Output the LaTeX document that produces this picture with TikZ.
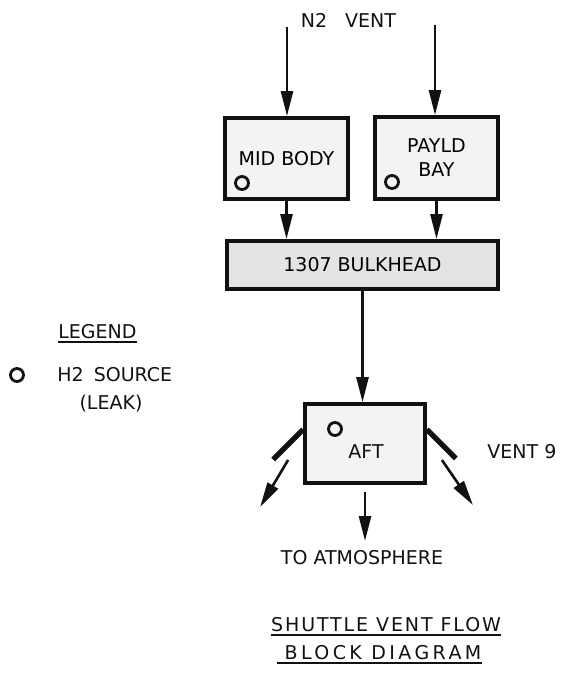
\documentclass[tikz,border=0pt]{standalone}
\usepackage{fontspec}
\setmainfont{DejaVu Sans}
\usepackage{tikz}
\usetikzlibrary{arrows.meta,positioning,calc}
\definecolor{VentInk}{HTML}{111111}
\definecolor{VentFill}{HTML}{F3F3F3}
\definecolor{BulkFill}{HTML}{E4E4E4}
\tikzset{
  ventlabel/.style={font=\fontsize{9.5}{11}\selectfont, text=VentInk, inner sep=0pt},
  ventbox/.style={draw=VentInk, line width=1.9pt, fill=VentFill, align=center, font=\fontsize{9.5}{12}\selectfont},
  bulkbox/.style={ventbox, fill=BulkFill},
  srcmark/.style={circle, draw=VentInk, line width=1.4pt, minimum size=6.5pt, inner sep=0pt},
  ventarrow/.style={-{Triangle[length=12.5pt,width=6pt]}, line width=1.3pt, draw=VentInk},
  ventbar/.style={line width=2.6pt, draw=VentInk},
  uline/.style={line width=0.9pt, draw=VentInk}
}

\begin{document}
\begin{tikzpicture}[x=0.5pt, y=-0.5pt]
\useasboundingbox (0,0) rectangle (564,674);
% compartments
\node[ventbox, minimum width=61.5pt, minimum height=40.5pt] (mid) at (286.5,158.5) {MID BODY};
\node[ventbox, minimum width=61.5pt, minimum height=41pt] (payld) at (436.5,158) {PAYLD\\BAY};
\node[bulkbox, minimum width=135.5pt, minimum height=24pt] (bulk) at (362.5,265) {1307 BULKHEAD};
\node[ventbox, minimum width=60pt, minimum height=39.5pt] (aft) at (365,443.5) {};
\node[ventlabel] (afttxt) at ([shift={(1,8.5)}]aft.center) {AFT};
% H2 sources
\node[srcmark] (srcmid) at (242,183) {};
\node[srcmark] (srcpay) at (392,182) {};
\node[srcmark] (srcaft) at (335,429) {};
% inflow
\node[ventlabel] (n2vent) at (348.5,20) {N2\hspace{9pt}VENT};
\coordinate (inL) at (287,27);
\coordinate (inR) at (435,25);
\draw[ventarrow] (inL) -- (inL |- mid.north);
\draw[ventarrow] (inR) -- (inR |- payld.north);
\draw[ventarrow] (mid.south) -- (mid.south |- bulk.north);
\draw[ventarrow] (payld.south) -- (payld.south |- bulk.north);
\draw[ventarrow] (bulk.south) -- (bulk.south |- aft.north);
% outflow
\node[ventlabel] (atm) at (362,558) {TO ATMOSPHERE};
\coordinate (atmtip) at (365,541);
\draw[ventarrow] ([yshift=-3.5pt]aft.south) -- (atmtip);
\draw[ventbar] ([yshift=7pt]aft.west) -- ++(-30,30);
\draw[ventbar] ([yshift=7pt]aft.east) -- ++(29,29);
\draw[ventarrow] ([shift={(-15,16.5)}]aft.west) -- ++(-28,47);
\draw[ventarrow] ([shift={(15,16.5)}]aft.east) -- ++(31,45);
\node[ventlabel, anchor=west] (vent9) at (487,452) {VENT 9};
% legend
\node[ventlabel, anchor=west] (legend) at (58,332) {LEGEND};
\draw[uline] ([yshift=-1.3pt]legend.south west) -- ([yshift=-1.3pt]legend.south east);
\node[srcmark] (legsrc) at (17,375) {};
\node[ventlabel, anchor=west] (h2src) at (57,375) {H2\hspace{5pt}SOURCE};
\node[ventlabel] (leak) at (111,404) {(LEAK)};
% title
\node[ventlabel] (title1) at (386,625) {\addfontfeature{LetterSpace=10}SHUTTLE VENT FLOW};
\node[ventlabel] (title2) at (383,653) {\addfontfeature{LetterSpace=18}BLOCK DIAGRAM};
\draw[uline] ([yshift=-1.3pt]title1.south west) -- ([yshift=-1.3pt]title1.south east);
\draw[uline] ([shift={(-7,-1.3pt)}]title2.south west) -- ([yshift=-1.3pt]title2.south east);
\end{tikzpicture}
\end{document}
